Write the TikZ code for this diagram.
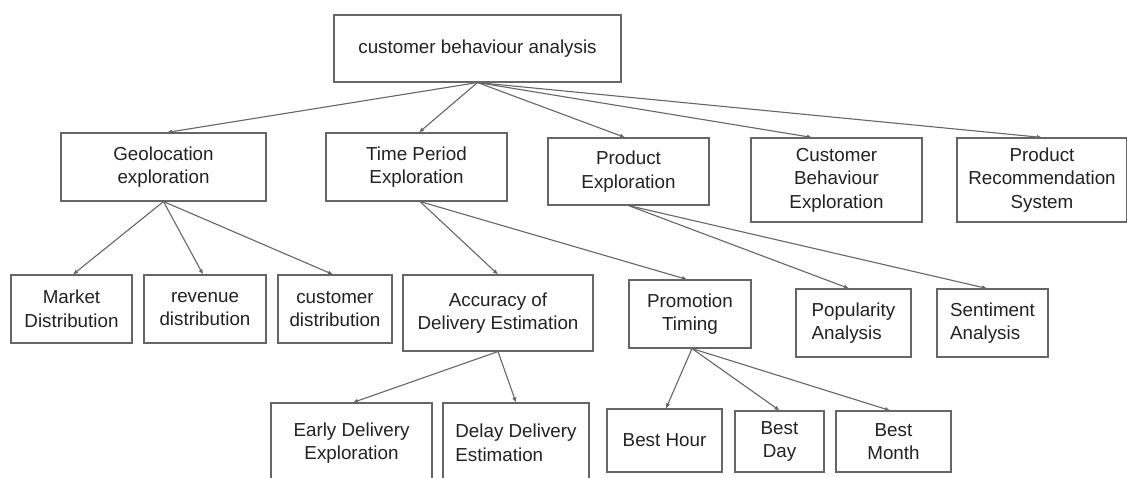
\documentclass[tikz,border=0pt]{standalone}
\usepackage{fontspec}
\setmainfont{Liberation Sans}
\usetikzlibrary{arrows.meta}
\definecolor{lin}{HTML}{666666}
\definecolor{txt}{HTML}{222222}
\begin{document}
\begin{tikzpicture}[x=1pt,y=-1pt,
  box/.style={draw=lin, line width=1.1pt, rectangle, inner sep=0pt, align=center, text=txt, font=\fontsize{18.8}{23.5}\selectfont},
  lbox/.style={box, align=left},
  conn/.style={draw=lin, line width=1.1pt, -{Latex[length=5pt,width=4.5pt]}}
]
\useasboundingbox (0,0) rectangle (1127,478);
\clip (0,0) rectangle (1127,478);
\fill[white] (0,0) rectangle (1127,478);
% level 0
\node[box, minimum width=287pt, minimum height=67pt] (root) at (477.5,48.5) {customer behaviour analysis};
% level 1
\node[box, minimum width=205pt, minimum height=68pt] (geo) at (163.5,167) {Geolocation\\exploration};
\node[box, minimum width=181pt, minimum height=68pt] (time) at (416.5,167) {Time Period\\Exploration};
\node[box, minimum width=161pt, minimum height=67pt] (prod) at (628.5,171.5) {Product\\Exploration};
\node[box, minimum width=171pt, minimum height=84pt] (cbe) at (836.5,180) {Customer\\Behaviour\\Exploration};
\node[box, minimum width=170pt, minimum height=84pt] (prs) at (1042,180) {Product\\Recommendation\\System};
% level 2
\node[box, minimum width=121pt, minimum height=68pt] (market) at (71.5,309) {Market\\Distribution};
\node[box, minimum width=122pt, minimum height=68pt] (revenue) at (205,309) {revenue\\distribution};
\node[box, minimum width=114pt, minimum height=68pt] (custd) at (335,309) {customer\\distribution};
\node[box, minimum width=190pt, minimum height=76pt] (acc) at (498,313) {Accuracy of\\Delivery Estimation};
\node[box, minimum width=122pt, minimum height=68pt] (promo) at (690,314) {Promotion\\Timing};
\node[lbox, minimum width=115pt, minimum height=68pt] (pop) at (853.5,323) {Popularity\\Analysis};
\node[lbox, minimum width=111pt, minimum height=68pt] (sent) at (992.5,323) {Sentiment\\Analysis};
% level 3
\node[box, minimum width=161pt, minimum height=80pt] (early) at (351.5,443) {Early Delivery\\Exploration};
\node[lbox, minimum width=146pt, minimum height=80pt] (delay) at (516,443) {Delay Delivery\\Estimation};
\node[box, minimum width=115pt, minimum height=63pt] (hour) at (664.5,440.5) {Best Hour};
\node[box, minimum width=89pt, minimum height=61pt] (day) at (779.5,441.5) {Best\\Day};
\node[box, minimum width=115pt, minimum height=61pt] (month) at (893.5,441.5) {Best\\Month};
% connectors
\draw[conn] (root.south) -- ([xshift=3.5pt]geo.north);
\draw[conn] (root.south) -- ([xshift=2.5pt]time.north);
\draw[conn] (root.south) -- ([xshift=-3.5pt]prod.north);
\draw[conn] (root.south) -- ([xshift=-24.5pt]cbe.north);
\draw[conn] (root.south) -- (prs.north);
\draw[conn] (geo.south) -- ([xshift=1.5pt]market.north);
\draw[conn] (geo.south) -- ([xshift=-2pt]revenue.north);
\draw[conn] (geo.south) -- ([xshift=-2pt]custd.north);
\draw[conn] ([xshift=3.5pt]time.south) -- (acc.north);
\draw[conn] ([xshift=3.5pt]time.south) -- ([xshift=-3pt]promo.north);
\draw[conn] (prod.south) -- ([xshift=-4.5pt]pop.north);
\draw[conn] (prod.south) -- ([xshift=-5.5pt]sent.north);
\draw[conn] (acc.south) -- ([xshift=1.5pt]early.north);
\draw[conn] (acc.south) -- (delay.north);
\draw[conn] ([xshift=2pt]promo.south) -- ([xshift=1.5pt]hour.north);
\draw[conn] ([xshift=2pt]promo.south) -- (day.north);
\draw[conn] ([xshift=2pt]promo.south) -- ([xshift=-3.5pt]month.north);
\end{tikzpicture}
\end{document}
